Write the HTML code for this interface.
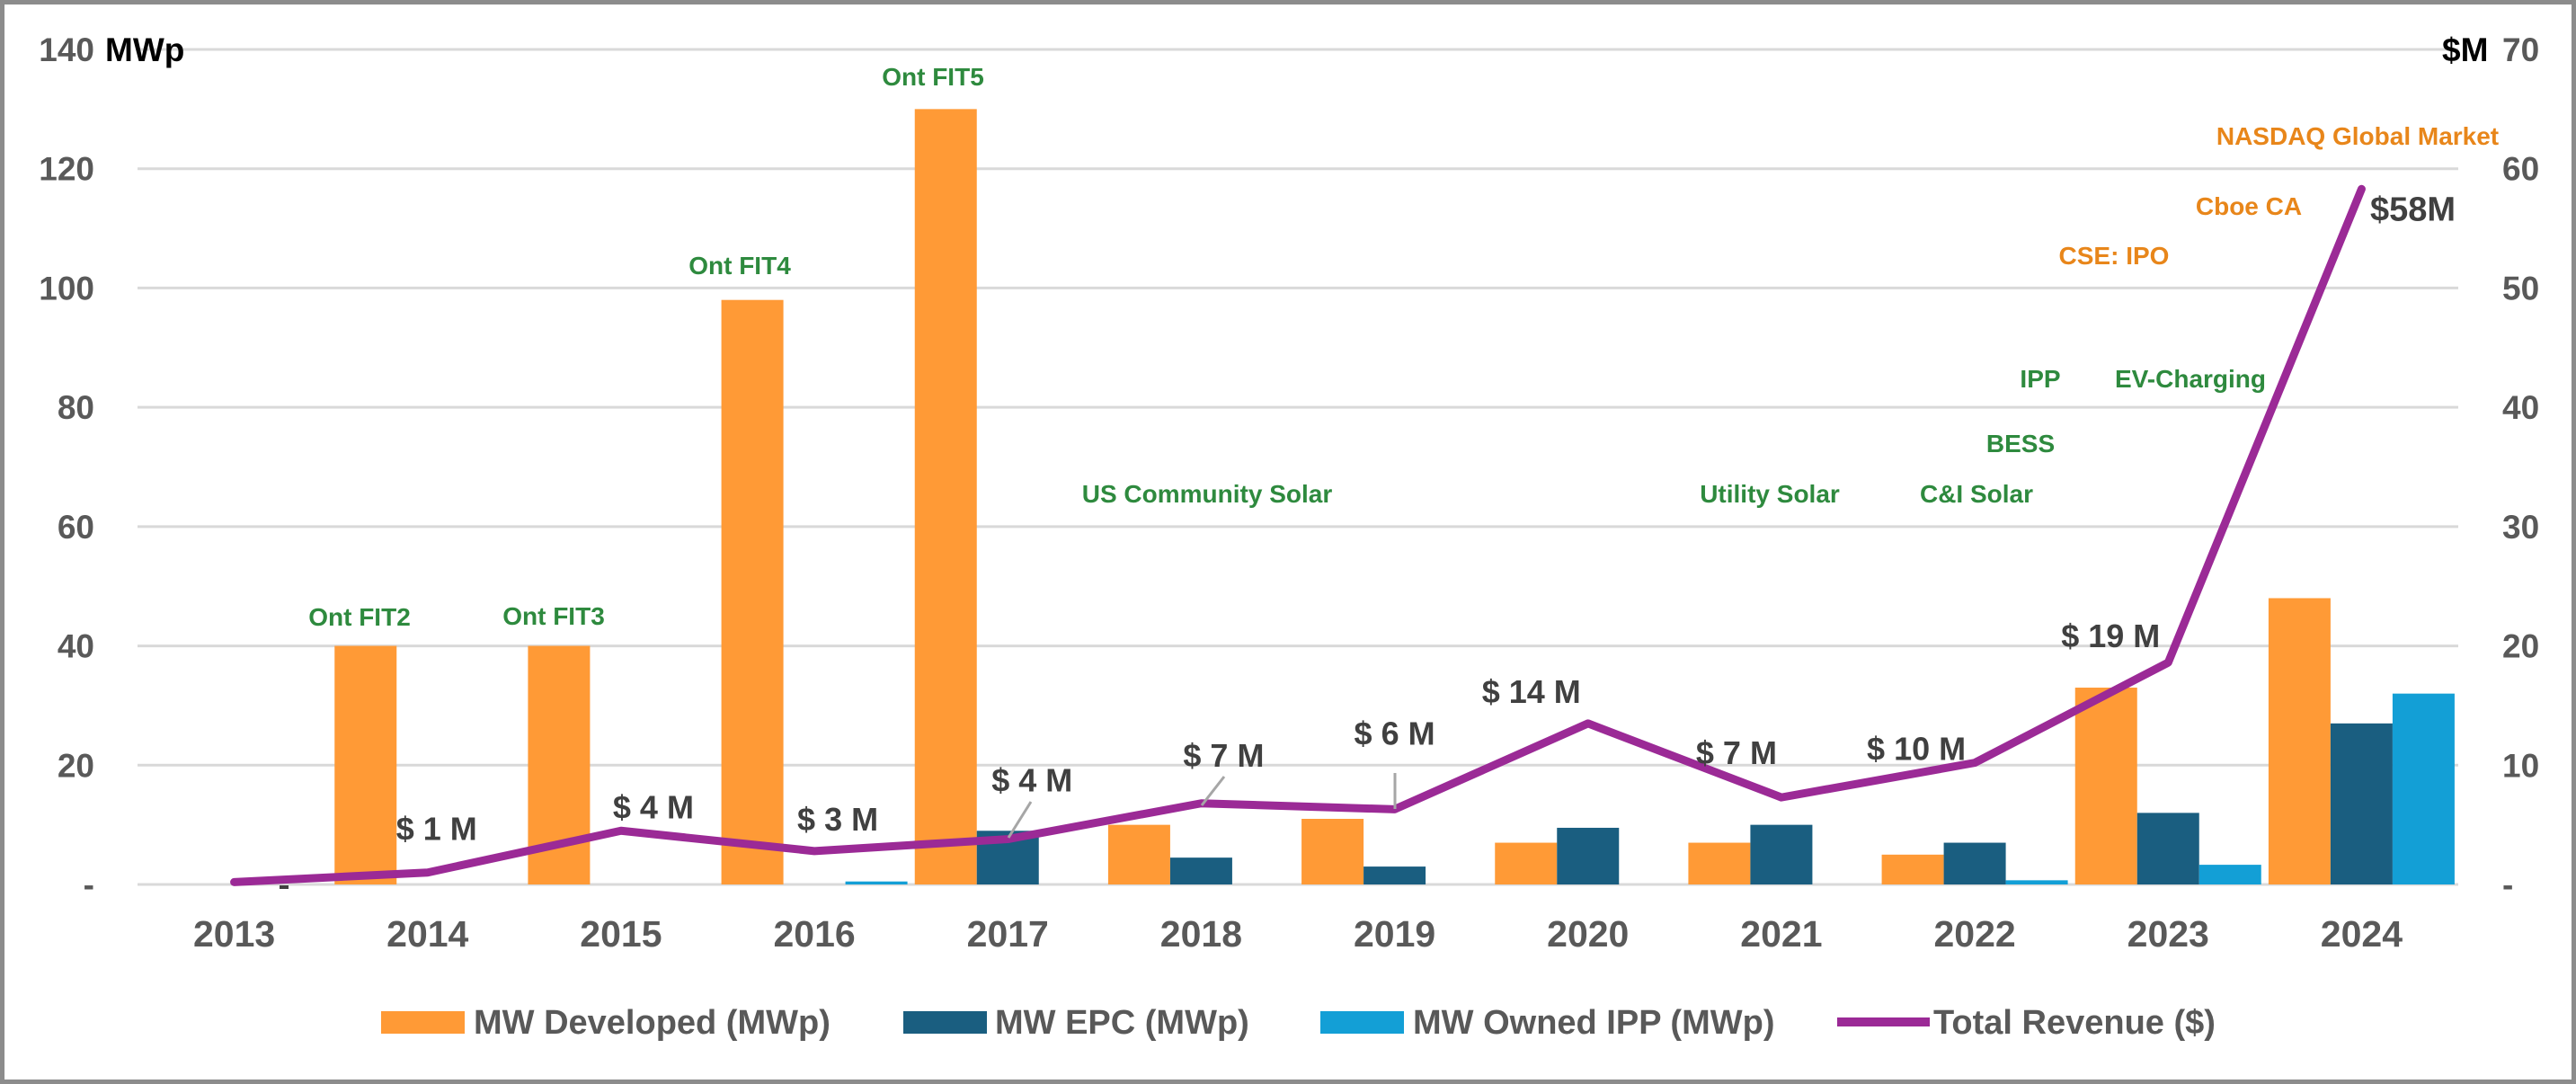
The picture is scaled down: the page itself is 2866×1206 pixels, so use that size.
<!DOCTYPE html>
<html><head><meta charset="utf-8"><style>
html,body{margin:0;padding:0;background:#fff}
svg{display:block}
text{font-family:"Liberation Sans",Arial,sans-serif;font-weight:bold}
</style></head><body>
<svg id="chart" width="2866" height="1206" viewBox="0 0 2866 1206" xmlns="http://www.w3.org/2000/svg">
<rect x="2.5" y="2.5" width="2861" height="1201" fill="#fff" stroke="#8c8c8c" stroke-width="5"/>
<g id="grid"></g><g id="bars"></g><g id="line"></g><g id="labels"></g><g id="axes"></g><g id="notes"></g><g id="legend"></g>
</svg>
<script>
const years=['2013','2014','2015','2016','2017','2018','2019','2020','2021','2022','2023','2024'];
const mwDeveloped=[0,40,40,98,130,10,11,7,7,5,33,48];
const mwEPC=[0,0,0,0,9,4.5,3,9.5,10,7,12,27];
const mwIPP=[0,0,0,0.5,0,0,0,0,0,0.7,3.3,32];
const revenue=[0.2,1,4.5,2.8,3.8,6.8,6.3,13.5,7.3,10.2,18.6,58.3];
const revenueLabels=['','$ 1 M','$ 4 M','$ 3 M','$ 4 M','$ 7 M','$ 6 M','$ 14 M','$ 7 M','$ 10 M','$ 19 M','$58M'];
const leftTicks=[0,20,40,60,80,100,120,140];
const leftTickLabels=['-','20','40','60','80','100','120','140'];
const rightTicks=[0,10,20,30,40,50,60,70];
const rightTickLabels=['-','10','20','30','40','50','60','70'];

const NS='http://www.w3.org/2000/svg';
const X0=153,X1=2735,Y0=984,Y1=55;
const band=(X1-X0)/years.length;
const xc=i=>X0+band*(i+0.5);
const yL=v=>Y0-(v/140)*(Y0-Y1);
const yR=v=>Y0-(v/70)*(Y0-Y1);
function el(tag,attrs,parent,txt){const e=document.createElementNS(NS,tag);for(const k in attrs)e.setAttribute(k,attrs[k]);if(txt!==undefined)e.textContent=txt;document.getElementById(parent).appendChild(e);return e;}

leftTicks.forEach((t,i)=>{
  const g=el('line',{x1:X0,x2:X1,y1:yL(t),y2:yL(t),stroke:'#d9d9d9','stroke-width':3},'grid');
  
  
  const lt=el('text',{x:105,y:yL(t)+13,'text-anchor':'end','font-size':37,fill:'#595959'},'axes',leftTickLabels[i]);
  
  
});
rightTicks.forEach((t,i)=>{
  const rt=el('text',{x:2784,y:yR(t)+13,'font-size':37,fill:'#595959'},'axes',rightTickLabels[i]);
  
  
});
const at1=el('text',{x:117,y:68,'font-size':37,fill:'#000'},'axes','MWp');


const at2=el('text',{x:2717,y:68,'font-size':37,fill:'#000'},'axes','$M');



const BW=69;
years.forEach((y,i)=>{
  const c=xc(i);
  const series=[[mwDeveloped,'#ff9a36','bar-developed',-1.5],[mwEPC,'#1a5e80','bar-epc',-0.5],[mwIPP,'#139fd6','bar-ipp',0.5]];
  series.forEach(s=>{
    const v=s[0][i]; if(v<=0) return;
    const r=el('rect',{x:c+s[3]*BW,y:yL(v),width:BW,height:Y0-yL(v),fill:s[1]},'bars');
    
    
  });
  const xl=el('text',{x:c,y:1053,'text-anchor':'middle','font-size':41,fill:'#595959'},'axes',y);
  
  
});
const dash=el('rect',{x:311,y:985,width:10,height:4,fill:'#404040'},'bars');



const pts=revenue.map((v,i)=>xc(i)+','+yR(v)).join(' ');
const pl=el('polyline',{points:pts,fill:'none',stroke:'#9b2a96','stroke-width':9,'stroke-linejoin':'round','stroke-linecap':'round'},'line');



const labelOffsets=[[0,0],[10,-36],[36,-14],[26,-23],[27,-53],[25,-41],[0,-72],[-63,-23],[-50,-37],[-65,-3],[-64,-17],[0,35]];
revenue.forEach((v,i)=>{
  if(!revenueLabels[i]) return;
  const t=el('text',{x:xc(i)+labelOffsets[i][0],y:yR(v)+labelOffsets[i][1],'text-anchor':i===11?'start':'middle','font-size':36,fill:'#404040'},'labels',revenueLabels[i]);
  if(i===11){t.setAttribute('x',2637);t.setAttribute('font-size',38);}
  
  
});
[[4,1122,932,1147,892],[5,1337,896,1362,864],[6,1552,900,1552,860]].forEach(l=>{
  const ll=el('line',{x1:l[1],y1:l[2],x2:l[3],y2:l[4],stroke:'#a6a6a6','stroke-width':3},'labels');
  
  
});

const greenNotes=[['Ont FIT2',400,696],['Ont FIT3',616,695],['Ont FIT4',823,305],['Ont FIT5',1038,95],['US Community Solar',1343,559],['Utility Solar',1969,559],['C&I Solar',2199,559],['BESS',2248,503],['IPP',2270,431],['EV-Charging',2437,431]];
greenNotes.forEach(n=>{
  const t=el('text',{x:n[1],y:n[2],'text-anchor':'middle','font-size':28,fill:'#2e8a3e'},'notes',n[0]);
  
  
});
const orangeNotes=[['NASDAQ Global Market',2623,161],['Cboe CA',2502,239],['CSE: IPO',2352,294]];
orangeNotes.forEach(n=>{
  const t=el('text',{x:n[1],y:n[2],'text-anchor':'middle','font-size':28,fill:'#e8861a'},'notes',n[0]);
  
  
});

const legendItems=[['MW Developed (MWp)','#ff9a36',424,527,'rect'],['MW EPC (MWp)','#1a5e80',1005,1107,'rect'],['MW Owned IPP (MWp)','#139fd6',1469,1572,'rect'],['Total Revenue ($)','#9b2a96',2044,2151,'line']];
legendItems.forEach(l=>{
  let s;
  if(l[4]==='rect') s=el('rect',{x:l[2],y:1125,width:93,height:25,fill:l[1]},'legend');
  else s=el('line',{x1:l[2],x2:l[2]+103,y1:1137,y2:1137,stroke:l[1],'stroke-width':10},'legend');
  
  
  const t=el('text',{x:l[3],y:1150,'font-size':38,fill:'#595959'},'legend',l[0]);
  
  
});
</script>
</body></html>
